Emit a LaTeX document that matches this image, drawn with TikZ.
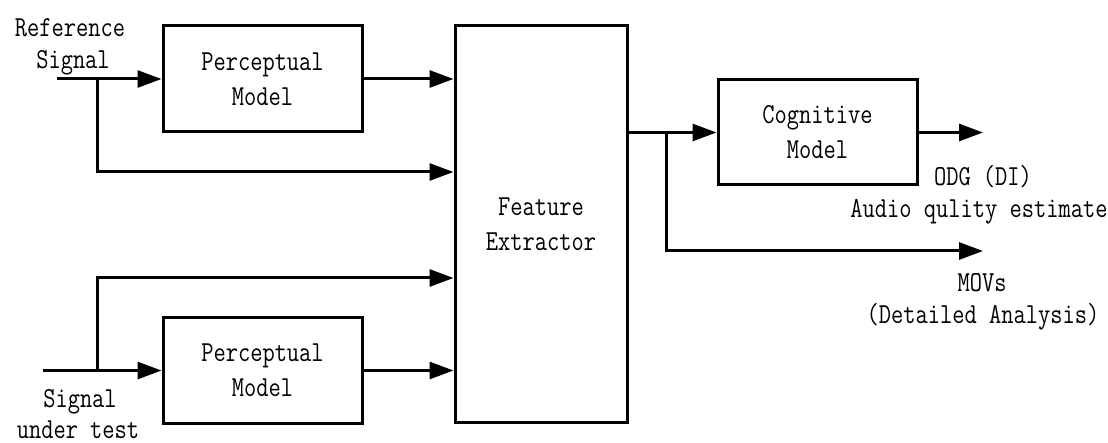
\documentclass[tikz,border=0pt]{standalone}
\usepackage{fontspec}
\setmonofont{Latin Modern Mono}[FakeStretch=0.82]
\usetikzlibrary{arrows.meta,calc}
\begin{document}
\begin{tikzpicture}[x=1pt,y=-1pt,
  box/.style={draw,line width=3pt,inner sep=0pt,align=center,font=\ttfamily\fontsize{29}{35}\selectfont},
  lbl/.style={inner sep=0pt,align=center,font=\ttfamily\fontsize{29}{35}\selectfont},
  conn/.style={line width=3pt,-{Triangle[length=24pt,width=17pt]}},
  wire/.style={line width=3pt}]
\useasboundingbox (0,0) rectangle (1108,443);
\node[box,minimum width=199pt,minimum height=106pt] (p1) at (262.5,79) {Perceptual\\Model};
\node[box,minimum width=199pt,minimum height=105pt] (p2) at (262.5,370.5) {Perceptual\\Model};
\node[box,minimum width=172pt,minimum height=396pt] (fe) at (541,224) {Feature\\Extractor};
\node[box,minimum width=199pt,minimum height=105pt] (cm) at (817.5,132.5) {Cognitive\\Model};
\coordinate (in1) at (57,79);
\coordinate (j1) at (97,79);
\coordinate (in2) at (43,370.5);
\coordinate (j2) at (97,370.5);
\coordinate (j3) at (666,132.5);
\coordinate (o1) at (983,132.5);
\coordinate (o2) at (983,251);
% top
\draw[wire] (in1) -- (j1);
\draw[conn] (j1) -- (p1.west);
\draw[conn] (p1.east) -- (fe.west |- p1.east);
\draw[conn] (j1) |- (fe.west |- 0,172);
% bottom
\draw[wire] (in2) -- (j2);
\draw[conn] (j2) -- (p2.west);
\draw[conn] (p2.east) -- (fe.west |- p2.east);
\draw[conn] (j2) |- (fe.west |- 0,278);
% right
\draw[wire] (fe.east |- j3) -- (j3);
\draw[conn] (j3) -- (cm.west);
\draw[conn] (cm.east) -- (o1);
\draw[conn] (j3) |- (o2);
% labels
\node[lbl] (t1) at (70,28) {Reference};
\node[lbl] (t2) at (73,63) {Signal};
\node[lbl] (t3) at (80,402) {Signal};
\node[lbl] (t4) at (78,430) {under test};
\node[lbl] (t5) at (983,177) {ODG (DI)};
\node[lbl] (t6) at (979,212) {Audio qulity estimate};
\node[lbl] (t7) at (982,283) {MOVs};
\node[lbl] (t8) at (983,317) {(Detailed Analysis)};
\end{tikzpicture}
\end{document}
